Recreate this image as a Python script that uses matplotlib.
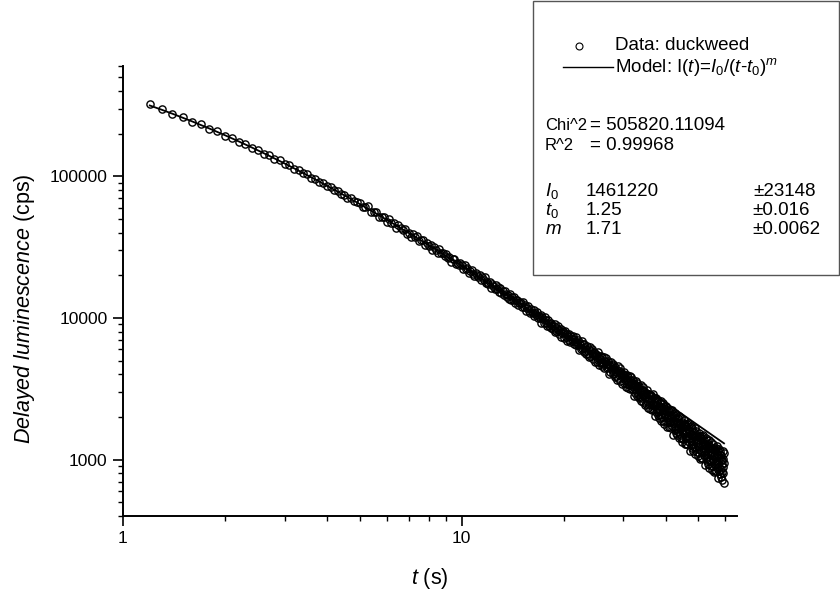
import numpy as np
import matplotlib
matplotlib.use("Agg")
import matplotlib.pyplot as plt
from matplotlib.patches import Rectangle
from matplotlib.ticker import LogLocator, NullFormatter, FixedLocator, FixedFormatter

plt.rcParams['font.family'] = ['Liberation Sans', 'DejaVu Sans']
plt.rcParams['mathtext.fontset'] = 'custom'
plt.rcParams['mathtext.rm'] = 'Liberation Sans'
plt.rcParams['mathtext.it'] = 'Liberation Sans:italic'
plt.rcParams['mathtext.bf'] = 'Liberation Sans:bold'

# delayed luminescence of duckweed (cps), one reading every 0.1 s from 1.2 s to 59.5 s
t = np.round(np.arange(1.2, 59.55, 0.1), 1)

# 1.2 - 4.9 s
lum_early = [325000, 297000, 274000, 261000, 242000, 232500, 216000, 208500,
             193000, 187000, 175200, 169500, 158800, 153600, 144500, 141200,
             133000, 129800, 122000, 119600, 113000, 111000, 104600, 102900,
             97300, 96200, 90900, 89700, 84900, 84200, 79700, 79000,
             74800, 74300, 70500, 70200, 66500, 66300]

# 5.0 - 9.9 s
lum_mid = [64910, 60190, 61090, 61340, 56350, 55500, 56300, 51160, 51960, 51660,
           47900, 50230, 46780, 46680, 43400, 45550, 43260, 41460, 42220, 39280,
           40000, 37280, 39220, 36970, 38070, 35180, 35210, 35210, 32830, 33530,
           32230, 32950, 30170, 31510, 30350, 28930, 30470, 28500, 28570, 27230,
           28130, 26340, 26720, 25000, 26140, 26240, 24090, 24440, 23810, 24380]

# 10.0 - 19.9 s
lum_late = [23650, 22310, 23710, 22160, 22640, 20800, 21580, 21910, 20450, 19740,
            20860, 19990, 19430, 20240, 18520, 19310, 18570, 19320, 17680, 18050,
            17430, 18020, 16350, 17350, 16890, 16110, 17150, 15970, 16410, 15260,
            16300, 15100, 15430, 14420, 15400, 14730, 14150, 14610, 13500, 14790,
            13460, 14010, 13490, 14090, 12780, 13300, 13450, 12240, 12740, 12950,
            12680, 11890, 12870, 11940, 12320, 11200, 11780, 12070, 11190, 10790,
            11620, 11100, 10800, 11410, 10320, 10920, 10490, 11070, 10020, 10350,
            9980, 10470, 9275, 10080, 9790, 9260, 10100, 9260, 9650, 8830,
            9670, 8830, 9130, 8425, 9220, 8770, 8385, 8790, 7995, 9045,
            8060, 8555, 8175, 8715, 7670, 8145, 8315, 7355, 7815, 8035]

# 20.0 - 59.5 s
lum_tail = [7857, 7252, 8107, 7388, 7751, 6865, 7402, 7696, 7002, 6719,
            7484, 7070, 6840, 7442, 6505, 7099, 6757, 7339, 6428, 6775,
            6490, 6975, 5928, 6700, 6477, 6028, 6836, 6108, 6509, 5793,
            6600, 5859, 6161, 5546, 6298, 5914, 5591, 5992, 5288, 6283,
            5408, 5878, 5555, 6071, 5142, 5598, 5774, 4919, 5365, 5590,
            5449, 4918, 5708, 5072, 5417, 4630, 5132, 5416, 4801, 4559,
            5269, 4911, 4718, 5274, 4444, 4993, 4699, 5238, 4429, 4757,
            4519, 4965, 4040, 4744, 4557, 4166, 4905, 4263, 4637, 4004,
            4742, 4093, 4374, 3836, 4518, 4187, 3909, 4280, 3660, 4564,
            3796, 4224, 3947, 4418, 3600, 4017, 4185, 3432, 3841, 4053,
            3936, 3470, 4178, 3619, 3932, 3239, 3691, 3949, 3409, 3201,
            3839, 3529, 3365, 3861, 3136, 3627, 3373, 3856, 3147, 3444,
            3236, 3632, 2827, 3449, 3290, 2953, 3607, 3048, 3382, 2832,
            3483, 2922, 3171, 2708, 3308, 3024, 2786, 3115, 2578, 3373,
            2707, 3082, 2847, 3260, 2554, 2921, 3072, 2422, 2782, 2971,
            2871, 2474, 3091, 2614, 2891, 2296, 2694, 2924, 2460, 2285,
            2843, 2580, 2443, 2879, 2254, 2686, 2470, 2895, 2283, 2547,
            2372, 2722, 2027, 2573, 2441, 2152, 2728, 2245, 2543, 2066,
            2636, 2151, 2373, 1973, 2502, 2258, 2054, 2347, 1880, 2583,
            2002, 2335, 2132, 2498, 1883, 2209, 2345, 1778, 2098, 2269,
            2187, 1842, 2388, 1971, 2218, 1697, 2051, 2258, 1851, 1699,
            2192, 1963, 1846, 2232, 1684, 2066, 1880, 2257, 1720, 1956,
            1805, 2115, 1504, 1988, 1874, 1621, 2131, 1708, 1973, 1554,
            2061, 1636, 1835, 1483, 1953, 1740, 1562, 1823, 1412, 2037,
            1526, 1823, 1645, 1972, 1429, 1720, 1844, 1342, 1629, 1782,
            1711, 1408, 1893, 1527, 1747, 1287, 1603, 1788, 1430, 1297,
            1739, 1538, 1435, 1781, 1295, 1639, 1473, 1814, 1335, 1548,
            1415, 1695, 1152, 1586, 1485, 1261, 1721, 1343, 1583, 1209,
            1666, 1287, 1467, 1153, 1577, 1387, 1229, 1466, 1098, 1663,
            1208, 1470, 1316, 1605, 1129, 1387, 1498, 1056, 1311, 1450,
            1388, 1120, 1551, 1226, 1423, 1016, 1298, 1463, 1145, 1027,
            1420, 1243, 1153, 1460, 1030, 1337, 1191, 1493, 1070, 1259,
            1144, 1386, 916, 1294, 1207, 1014, 1413, 1086, 1295, 971,
            1369, 1039, 1197, 924, 1294, 1129, 992, 1199, 879, 1372,
            973, 1208, 1071, 1329, 905, 1136, 1236, 843, 1071, 1194,
            1138, 906, 1282, 1001, 1173, 818, 1064, 1209, 933, 831,
            1175, 1020, 942, 1212, 837, 1105, 977, 1244, 873, 1041,
            939, 1157, 736, 1076, 998, 825, 1185, 892, 1080, 790,
            1144, 855, 993, 754, 1080, 936, 816, 999, 718, 1153,
            804, 1008, 890, 1114, 686, 948]

# fit parameters
I0 = 1461220
T0 = 1.25
M = 1.71

lum = np.concatenate([lum_early, lum_mid, lum_late, lum_tail])
model = I0 / (t + T0) ** M

fig = plt.figure(figsize=(8.4, 5.89), dpi=100)
ax = fig.add_axes([0.1464, 0.1239, 0.731, 0.7641])

ax.plot(t, lum, 'o', ms=5.2, mfc='none', mec='black', mew=1.0)
ax.plot(t, model, '-', color='black', lw=1.3)

ax.set_xscale('log')
ax.set_yscale('log')
ax.set_xlim(1, 65)
ax.set_ylim(400, 600000)

for s in ['top', 'right']:
    ax.spines[s].set_visible(False)
for s in ['left', 'bottom']:
    ax.spines[s].set_linewidth(1.4)

ax.xaxis.set_major_locator(FixedLocator([1, 10]))
ax.xaxis.set_major_formatter(FixedFormatter(['1', '10']))
ax.xaxis.set_minor_locator(LogLocator(base=10, subs=np.arange(2, 10)))
ax.xaxis.set_minor_formatter(NullFormatter())
ax.yaxis.set_major_locator(FixedLocator([1000, 10000, 100000]))
ax.yaxis.set_major_formatter(FixedFormatter(['1000', '10000', '100000']))
ax.yaxis.set_minor_locator(LogLocator(base=10, subs=np.arange(2, 10)))
ax.yaxis.set_minor_formatter(NullFormatter())

ax.tick_params(which='major', direction='out', length=7, width=1.2, labelsize=12.5, pad=4)
ax.tick_params(which='minor', direction='out', length=3.6, width=1.0)

ax.set_xlabel(r'$t$ (s)', fontsize=15.5)
ax.xaxis.set_label_coords(0.5, -0.11)
ax.set_ylabel(r'$Delayed\ luminescence$ (cps)', fontsize=15.5)
ax.yaxis.set_label_coords(-0.14, 0.46)

# fit report box
W, H = 840.0, 589.0
fig.patches.append(Rectangle((533 / W, 1 - 275 / H), (839 - 533) / W, (275 - 1) / H,
                             transform=fig.transFigure, fill=False,
                             edgecolor='#555555', lw=1.0))
fig.lines.append(plt.Line2D([579 / W], [1 - 46 / H], marker='o', ms=5, mfc='none',
                            mec='black', mew=0.8, transform=fig.transFigure))
fig.lines.append(plt.Line2D([563 / W, 613 / W], [1 - 67 / H, 1 - 67 / H],
                            color='black', lw=1.0, transform=fig.transFigure))


def put(x, y, s, fs=13.5):
    fig.text(x / W, 1 - y / H, s, fontsize=fs, ha='left', va='center')


put(615, 46, 'Data: duckweed')
put(615, 67, r'Model: I($t$)=$I_0$/($t$-$t_0$)$^m$')
put(545, 125, 'Chi^2', fs=12)
put(590, 125, '= 505820.11094')
put(545, 146, 'R^2', fs=12)
put(590, 146, '= 0.99968')
put(545, 191, r'$I_0$')
put(586, 191, '1461220')
put(753, 191, '±23148')
put(545, 211, r'$t_0$')
put(586, 211, '1.25')
put(752, 211, '±0.016')
put(545, 230, r'$m$')
put(586, 230, '1.71')
put(752, 230, '±0.0062')

fig.savefig('out.png', dpi=100)
